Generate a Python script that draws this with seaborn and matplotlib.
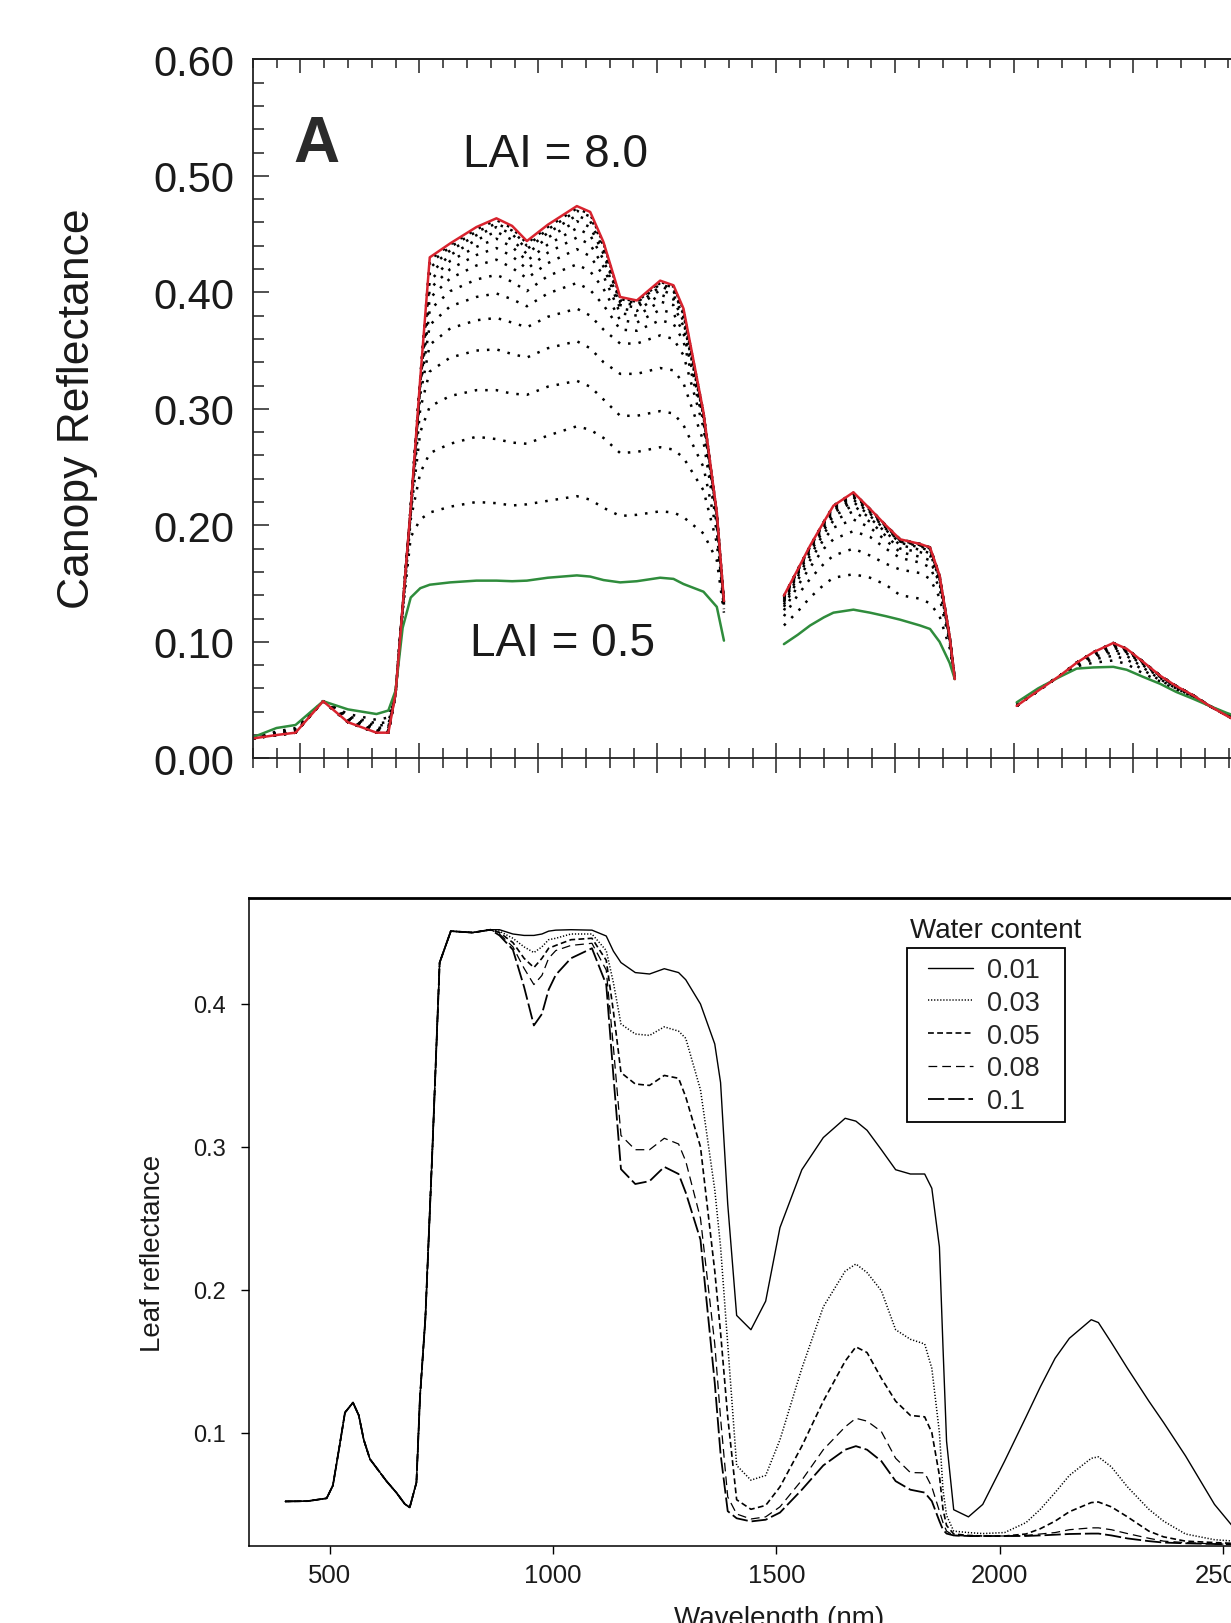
import numpy as np
import matplotlib
matplotlib.use("Agg")
import matplotlib.pyplot as plt
from matplotlib.ticker import MultipleLocator, FormatStrFormatter
from matplotlib.patches import Rectangle
import seaborn as sns

# ---------------- data: top panel (canopy reflectance, LAI 0.5 .. 8.0) ----------------
TOP_WL1 = [400, 450, 490, 548, 600, 660, 685, 700, 715, 732, 752, 772, 815, 870, 912,
           945, 976, 1020, 1081, 1109, 1137, 1172, 1207, 1256, 1284, 1305, 1347, 1375, 1390]
TOP_WL2 = [1516, 1545, 1571, 1600, 1620, 1662, 1697, 1730, 1760, 1802, 1823, 1843, 1864, 1875]
TOP_WL3 = [2005, 2050, 2096, 2131, 2166, 2208, 2236, 2270, 2306, 2340, 2376, 2410, 2446, 2480, 2500]

RED1 = [0.017, 0.020, 0.022, 0.049, 0.031, 0.022, 0.022, 0.055, 0.130, 0.215, 0.326, 0.430, 0.442,
        0.456, 0.4635, 0.457, 0.444, 0.458, 0.474, 0.469, 0.443, 0.396, 0.393, 0.410, 0.406,
        0.386, 0.297, 0.211, 0.135]
RED2 = [0.1396, 0.162, 0.1825, 0.203, 0.2168, 0.2283, 0.214, 0.200, 0.188, 0.184, 0.181, 0.157, 0.105, 0.068]
RED3 = [0.045, 0.058, 0.071, 0.082, 0.091, 0.099, 0.094, 0.083, 0.071, 0.062, 0.054, 0.045, 0.0366, 0.029, 0.025]

GREEN1 = [0.018, 0.026, 0.0286, 0.049, 0.042, 0.038, 0.041, 0.058, 0.112, 0.138, 0.146, 0.149, 0.151,
          0.1525, 0.1525, 0.152, 0.1525, 0.155, 0.157, 0.156, 0.153, 0.151, 0.152, 0.155, 0.154,
          0.1496, 0.143, 0.130, 0.101]
GREEN2 = [0.098, 0.106, 0.114, 0.121, 0.125, 0.1276, 0.125, 0.122, 0.119, 0.114, 0.111, 0.100, 0.082, 0.068]
GREEN3 = [0.048, 0.060, 0.070, 0.077, 0.078, 0.0785, 0.076, 0.070, 0.064, 0.057, 0.051, 0.045, 0.039, 0.034, 0.031]

LAI_DOTTED = [1.0, 1.5, 2.0, 2.5, 3.0, 3.5, 4.0, 4.5, 5.0, 5.5, 6.0, 6.5, 7.0, 7.5]

DOT1 = [
    [0.017, 0.023, 0.026, 0.049, 0.038, 0.033, 0.035, 0.056, 0.125, 0.190, 0.205,
     0.211, 0.216, 0.220, 0.219, 0.217, 0.218, 0.221, 0.225, 0.222, 0.215, 0.208, 0.209, 0.212, 0.211, 0.207, 0.193, 0.170, 0.125],
    [0.017, 0.022, 0.025, 0.049, 0.036, 0.030, 0.031, 0.055, 0.127, 0.205, 0.245,
     0.262, 0.270, 0.276, 0.274, 0.271, 0.270, 0.277, 0.285, 0.282, 0.275, 0.262, 0.263, 0.267, 0.265, 0.258, 0.230, 0.185, 0.127],
    [0.017, 0.022, 0.024, 0.049, 0.035, 0.028, 0.029, 0.055, 0.128, 0.210, 0.280,
     0.302, 0.311, 0.316, 0.316, 0.313, 0.312, 0.319, 0.324, 0.319, 0.308, 0.294, 0.294, 0.298, 0.296, 0.286, 0.250, 0.195, 0.128],
    [0.017, 0.021, 0.023, 0.049, 0.034, 0.026, 0.027, 0.055, 0.129, 0.212, 0.300,
     0.332, 0.344, 0.350, 0.351, 0.347, 0.344, 0.352, 0.358, 0.352, 0.340, 0.330, 0.330, 0.335, 0.333, 0.322, 0.272, 0.200, 0.129],
    [0.017, 0.021, 0.023, 0.049, 0.033, 0.025, 0.026, 0.055, 0.129, 0.213, 0.312,
     0.355, 0.369, 0.376, 0.378, 0.374, 0.370, 0.379, 0.386, 0.380, 0.368, 0.356, 0.356, 0.363, 0.360, 0.346, 0.284, 0.204, 0.130],
    [0.017, 0.021, 0.023, 0.049, 0.033, 0.024, 0.025, 0.055, 0.130, 0.214, 0.318,
     0.372, 0.388, 0.396, 0.399, 0.394, 0.388, 0.399, 0.408, 0.402, 0.389, 0.368, 0.367, 0.376, 0.373, 0.358, 0.289, 0.206, 0.131],
    [0.017, 0.020, 0.022, 0.049, 0.032, 0.024, 0.024, 0.055, 0.130, 0.214, 0.320,
     0.385, 0.401, 0.411, 0.415, 0.409, 0.401, 0.414, 0.424, 0.418, 0.403, 0.376, 0.374, 0.385, 0.382, 0.365, 0.292, 0.207, 0.132],
    [0.017, 0.020, 0.022, 0.049, 0.032, 0.023, 0.023, 0.055, 0.130, 0.215, 0.322,
     0.395, 0.412, 0.423, 0.428, 0.421, 0.412, 0.425, 0.437, 0.431, 0.414, 0.382, 0.380, 0.392, 0.389, 0.371, 0.293, 0.208, 0.133],
    [0.017, 0.020, 0.022, 0.049, 0.032, 0.023, 0.023, 0.055, 0.130, 0.215, 0.323,
     0.403, 0.420, 0.432, 0.438, 0.431, 0.420, 0.434, 0.447, 0.441, 0.422, 0.386, 0.384, 0.398, 0.394, 0.375, 0.294, 0.209, 0.133],
    [0.017, 0.020, 0.022, 0.049, 0.031, 0.022, 0.022, 0.055, 0.130, 0.215, 0.324,
     0.410, 0.427, 0.439, 0.446, 0.439, 0.427, 0.441, 0.455, 0.449, 0.428, 0.389, 0.387, 0.402, 0.398, 0.379, 0.295, 0.209, 0.134],
    [0.017, 0.020, 0.022, 0.049, 0.031, 0.022, 0.022, 0.055, 0.130, 0.215, 0.325,
     0.416, 0.432, 0.445, 0.452, 0.445, 0.433, 0.447, 0.461, 0.456, 0.433, 0.391, 0.389, 0.405, 0.401, 0.381, 0.296, 0.210, 0.134],
    [0.017, 0.020, 0.022, 0.049, 0.031, 0.022, 0.022, 0.055, 0.130, 0.215, 0.325,
     0.421, 0.436, 0.449, 0.456, 0.450, 0.437, 0.451, 0.466, 0.461, 0.437, 0.393, 0.391, 0.407, 0.403, 0.383, 0.296, 0.210, 0.134],
    [0.017, 0.020, 0.022, 0.049, 0.031, 0.022, 0.022, 0.055, 0.130, 0.215, 0.326,
     0.425, 0.439, 0.452, 0.459, 0.453, 0.440, 0.454, 0.470, 0.465, 0.440, 0.394, 0.392, 0.408, 0.404, 0.384, 0.297, 0.210, 0.135],
    [0.017, 0.020, 0.022, 0.049, 0.031, 0.022, 0.022, 0.055, 0.130, 0.215, 0.326,
     0.428, 0.441, 0.454, 0.462, 0.455, 0.442, 0.456, 0.472, 0.467, 0.442, 0.395, 0.392, 0.409, 0.405, 0.385, 0.297, 0.211, 0.135],
]
DOT2 = [
    [0.114, 0.126, 0.138, 0.149, 0.155, 0.158, 0.155, 0.149, 0.140, 0.137, 0.133, 0.122, 0.095, 0.068],
    [0.122, 0.140, 0.154, 0.167, 0.174, 0.180, 0.174, 0.167, 0.162, 0.159, 0.154, 0.138, 0.100, 0.068],
    [0.127, 0.148, 0.164, 0.180, 0.188, 0.195, 0.190, 0.180, 0.172, 0.168, 0.164, 0.146, 0.102, 0.068],
    [0.130, 0.153, 0.170, 0.188, 0.198, 0.205, 0.198, 0.187, 0.177, 0.173, 0.170, 0.150, 0.103, 0.068],
    [0.132, 0.156, 0.174, 0.193, 0.204, 0.212, 0.203, 0.191, 0.180, 0.177, 0.174, 0.152, 0.104, 0.068],
    [0.134, 0.158, 0.177, 0.196, 0.208, 0.217, 0.206, 0.194, 0.183, 0.179, 0.176, 0.154, 0.104, 0.068],
    [0.135, 0.159, 0.179, 0.198, 0.211, 0.220, 0.208, 0.196, 0.185, 0.181, 0.178, 0.155, 0.104, 0.068],
    [0.136, 0.160, 0.180, 0.200, 0.213, 0.222, 0.210, 0.197, 0.186, 0.182, 0.179, 0.155, 0.105, 0.068],
    [0.137, 0.161, 0.181, 0.201, 0.214, 0.224, 0.211, 0.198, 0.186, 0.183, 0.180, 0.156, 0.105, 0.068],
    [0.138, 0.161, 0.181, 0.202, 0.215, 0.225, 0.212, 0.199, 0.187, 0.183, 0.180, 0.156, 0.105, 0.068],
    [0.138, 0.161, 0.182, 0.202, 0.216, 0.226, 0.213, 0.199, 0.187, 0.183, 0.180, 0.156, 0.105, 0.068],
    [0.139, 0.162, 0.182, 0.203, 0.216, 0.227, 0.213, 0.200, 0.188, 0.184, 0.181, 0.157, 0.105, 0.068],
    [0.139, 0.162, 0.182, 0.203, 0.216, 0.227, 0.214, 0.200, 0.188, 0.184, 0.181, 0.157, 0.105, 0.068],
    [0.139, 0.162, 0.182, 0.203, 0.217, 0.228, 0.214, 0.200, 0.188, 0.184, 0.181, 0.157, 0.105, 0.068],
]
DOT3 = [
    [0.046, 0.059, 0.071, 0.079, 0.082, 0.084, 0.081, 0.073, 0.066, 0.059, 0.052, 0.045, 0.038, 0.033, 0.030],
    [0.046, 0.059, 0.071, 0.080, 0.085, 0.088, 0.085, 0.076, 0.067, 0.060, 0.053, 0.045, 0.038, 0.032, 0.029],
    [0.046, 0.058, 0.071, 0.081, 0.087, 0.091, 0.088, 0.078, 0.068, 0.060, 0.053, 0.045, 0.038, 0.031, 0.028],
    [0.045, 0.058, 0.071, 0.081, 0.088, 0.093, 0.090, 0.080, 0.069, 0.061, 0.053, 0.045, 0.037, 0.031, 0.027],
    [0.045, 0.058, 0.071, 0.082, 0.089, 0.095, 0.091, 0.081, 0.070, 0.061, 0.054, 0.045, 0.037, 0.030, 0.026],
    [0.045, 0.058, 0.071, 0.082, 0.090, 0.096, 0.092, 0.082, 0.070, 0.062, 0.054, 0.045, 0.037, 0.030, 0.026],
    [0.045, 0.058, 0.071, 0.082, 0.090, 0.097, 0.092, 0.082, 0.071, 0.062, 0.054, 0.045, 0.037, 0.030, 0.025],
    [0.045, 0.058, 0.071, 0.082, 0.090, 0.097, 0.093, 0.083, 0.071, 0.062, 0.054, 0.045, 0.037, 0.029, 0.025],
    [0.045, 0.058, 0.071, 0.082, 0.091, 0.098, 0.093, 0.083, 0.071, 0.062, 0.054, 0.045, 0.037, 0.029, 0.025],
    [0.045, 0.058, 0.071, 0.082, 0.091, 0.098, 0.093, 0.083, 0.071, 0.062, 0.054, 0.045, 0.037, 0.029, 0.025],
    [0.045, 0.058, 0.071, 0.082, 0.091, 0.098, 0.094, 0.083, 0.071, 0.062, 0.054, 0.045, 0.037, 0.029, 0.025],
    [0.045, 0.058, 0.071, 0.082, 0.091, 0.099, 0.094, 0.083, 0.071, 0.062, 0.054, 0.045, 0.037, 0.029, 0.025],
    [0.045, 0.058, 0.071, 0.082, 0.091, 0.099, 0.094, 0.083, 0.071, 0.062, 0.054, 0.045, 0.037, 0.029, 0.025],
    [0.045, 0.058, 0.071, 0.082, 0.091, 0.099, 0.094, 0.083, 0.071, 0.062, 0.054, 0.045, 0.037, 0.029, 0.025],
]

TOP_YTICKS = [0.00, 0.10, 0.20, 0.30, 0.40, 0.50, 0.60]

# ---------------- data: bottom panel (leaf reflectance vs water content) ----------------
LEAF_WL_COMMON = [400, 450, 493, 507, 522, 534, 552, 565, 576, 590, 627, 649, 668, 679, 694, 702,
                  714, 730, 746, 771, 820, 860]
LEAF_COMMON = [0.0518, 0.052, 0.054, 0.063, 0.091, 0.114, 0.121, 0.112, 0.095, 0.0814, 0.066, 0.058,
               0.050, 0.0476, 0.065, 0.125, 0.180, 0.300, 0.429, 0.451, 0.450, 0.452]
LEAF_WL = [880, 910, 935, 957, 975, 990, 1006, 1040, 1087, 1119, 1135, 1152, 1184, 1216, 1249, 1281,
           1297, 1330, 1362, 1375, 1391, 1411, 1443, 1476, 1508, 1557, 1605, 1654, 1678, 1703, 1735,
           1767, 1800, 1832, 1848, 1865, 1873, 1881, 1897, 1930, 1962, 2011, 2059, 2091, 2124, 2156,
           2205, 2221, 2250, 2286, 2334, 2367, 2416, 2481, 2526]
WATER_CONTENT = ["0.01", "0.03", "0.05", "0.08", "0.1"]
LEAF_001 = [0.452, 0.449, 0.448, 0.448, 0.449, 0.451, 0.4517, 0.452, 0.4517, 0.4476, 0.437, 0.429, 0.422,
            0.421, 0.4247, 0.422, 0.417, 0.400, 0.372, 0.345, 0.26, 0.182, 0.172, 0.192, 0.2435, 0.284,
            0.3065, 0.320, 0.318, 0.3116, 0.298, 0.284, 0.281, 0.281, 0.271, 0.230, 0.160, 0.094, 0.046,
            0.041, 0.0497, 0.080, 0.111, 0.132, 0.152, 0.166, 0.179, 0.177, 0.163, 0.145, 0.122, 0.107,
            0.0837, 0.0497, 0.0327]
LEAF_003 = [0.451, 0.446, 0.440, 0.436, 0.440, 0.445, 0.446, 0.449, 0.449, 0.4374, 0.415, 0.386, 0.379,
            0.378, 0.384, 0.381, 0.376, 0.340, 0.270, 0.230, 0.162, 0.077, 0.0667, 0.070, 0.095, 0.145,
            0.188, 0.213, 0.218, 0.212, 0.1993, 0.172, 0.1653, 0.162, 0.145, 0.100, 0.060, 0.042, 0.031,
            0.030, 0.0293, 0.030, 0.037, 0.0463, 0.058, 0.070, 0.082, 0.083, 0.076, 0.062, 0.0463, 0.038,
            0.029, 0.025, 0.024]
LEAF_005 = [0.450, 0.443, 0.432, 0.4255, 0.432, 0.439, 0.441, 0.445, 0.446, 0.4306, 0.395, 0.352, 0.344,
            0.343, 0.350, 0.348, 0.335, 0.300, 0.213, 0.170, 0.111, 0.053, 0.0463, 0.049, 0.062, 0.0905,
            0.122, 0.150, 0.160, 0.156, 0.138, 0.122, 0.112, 0.111, 0.100, 0.070, 0.0463, 0.035, 0.029,
            0.028, 0.0276, 0.0276, 0.029, 0.0327, 0.038, 0.0446, 0.051, 0.0514, 0.048, 0.041, 0.031, 0.027,
            0.024, 0.023, 0.0224]
LEAF_008 = [0.449, 0.440, 0.425, 0.4136, 0.420, 0.432, 0.4374, 0.441, 0.4425, 0.4238, 0.370, 0.308, 0.298,
            0.298, 0.306, 0.302, 0.290, 0.250, 0.162, 0.110, 0.055, 0.043, 0.0395, 0.041, 0.048, 0.0667,
            0.088, 0.104, 0.110, 0.108, 0.1007, 0.082, 0.072, 0.0718, 0.062, 0.045, 0.037, 0.031, 0.028,
            0.0276, 0.0276, 0.0276, 0.028, 0.029, 0.030, 0.032, 0.0333, 0.0333, 0.032, 0.0293, 0.026, 0.024,
            0.023, 0.022, 0.0218]
LEAF_010 = [0.448, 0.438, 0.412, 0.385, 0.393, 0.410, 0.4204, 0.432, 0.439, 0.4136, 0.350, 0.2844, 0.274,
            0.276, 0.286, 0.281, 0.268, 0.235, 0.1347, 0.085, 0.045, 0.040, 0.0378, 0.039, 0.044, 0.060,
            0.077, 0.088, 0.0905, 0.088, 0.080, 0.066, 0.060, 0.058, 0.052, 0.038, 0.032, 0.0293, 0.028,
            0.0276, 0.0276, 0.0276, 0.0276, 0.028, 0.0285, 0.029, 0.0293, 0.0293, 0.028, 0.0259, 0.024, 0.023,
            0.0225, 0.022, 0.0218]
LEAF_SERIES = [LEAF_001, LEAF_003, LEAF_005, LEAF_008, LEAF_010]
LEAF_XTICKS = [500, 1000, 1500, 2000, 2500]
LEAF_YTICKS = [0.1, 0.2, 0.3, 0.4]

# ---------------- figure ----------------
sns.set_style("ticks")
plt.rcParams['font.family'] = ['Liberation Sans', 'DejaVu Sans']

W, H = 1231, 1624
fig = plt.figure(figsize=(W / 100, H / 100), dpi=100)


def px_axes(left, top, right, bottom):
    return [left / W, 1 - bottom / H, (right - left) / W, (bottom - top) / H]


RED = '#d8232e'
GREEN = '#2f8c3c'

# ---- top panel ----
ax1 = fig.add_axes(px_axes(252.7, 60.3, 1252.3, 759.3))
segs_wl = [TOP_WL1, TOP_WL2, TOP_WL3]
for k in range(len(LAI_DOTTED)):
    for wl, vals in zip(segs_wl, [DOT1[k], DOT2[k], DOT3[k]]):
        sns.lineplot(x=wl, y=vals, ax=ax1, color='black', linewidth=1.8,
                     linestyle=(0, (1.0, 3.2)), sort=False, estimator=None)
for wl, vals in zip(segs_wl, [GREEN1, GREEN2, GREEN3]):
    sns.lineplot(x=wl, y=vals, ax=ax1, color=GREEN, linewidth=1.8, sort=False, estimator=None)
for wl, vals in zip(segs_wl, [RED1, RED2, RED3]):
    sns.lineplot(x=wl, y=vals, ax=ax1, color=RED, linewidth=1.8, sort=False, estimator=None)

ax1.set_xlim(400, 2500)
ax1.set_ylim(0, 0.6)
ax1.set_xlabel('')
ax1.set_ylabel('')
ax1.xaxis.set_major_locator(MultipleLocator(250))
ax1.xaxis.set_minor_locator(MultipleLocator(50))
ax1.set_yticks(TOP_YTICKS)
ax1.yaxis.set_minor_locator(MultipleLocator(0.02))
ax1.yaxis.set_major_formatter(FormatStrFormatter('%.2f'))
ax1.tick_params(axis='x', which='major', direction='inout', length=22, width=1.1,
                labelbottom=False, top=False, color='#222222')
ax1.tick_params(axis='x', which='minor', direction='inout', length=15, width=1.1,
                top=False, color='#222222')
ax1.tick_params(axis='y', which='major', direction='in', length=11.5, width=1.1,
                labelsize=30, pad=13.5, right=False, color='#222222', labelcolor='#1a1a1a')
ax1.tick_params(axis='y', which='minor', direction='in', length=7.9, width=1.1,
                right=False, color='#222222')
for sp in ax1.spines.values():
    sp.set_linewidth(1.3)
    sp.set_color('#222222')
sec = ax1.secondary_xaxis('top')
sec.xaxis.set_major_locator(MultipleLocator(250))
sec.xaxis.set_minor_locator(MultipleLocator(50))
sec.tick_params(axis='x', which='major', direction='in', length=10, width=1.1,
                labeltop=False, color='#222222')
sec.tick_params(axis='x', which='minor', direction='in', length=6.5, width=1.1, color='#222222')
sec.spines['top'].set_linewidth(1.3)

ax1.text(533, 0.527, 'A', fontsize=46, fontweight='bold', color='#2b2b2b',
         ha='center', va='center')
ax1.text(1037, 0.519, 'LAI = 8.0', fontsize=33, color='#1a1a1a', ha='center', va='center')
ax1.text(1051, 0.099, 'LAI = 0.5', fontsize=33, color='#1a1a1a', ha='center', va='center')
fig.text(78 / W, 1 - 409 / H, 'Canopy Reflectance', rotation=90, fontsize=32,
         ha='center', va='center', color='#1a1a1a')

# ---- bottom panel ----
ax2 = fig.add_axes(px_axes(248.5, 899, 1290, 1547))
LEAF_STYLES = [dict(linestyle='-', linewidth=1.0),
               dict(linestyle=(0, (0.8, 1.2)), linewidth=1.1),
               dict(linestyle=(0, (3.5, 2.0)), linewidth=1.2),
               dict(linestyle=(0, (7, 4)), linewidth=0.9),
               dict(linestyle=(0, (9, 2.2)), linewidth=1.3)]
handles = []
for lab, vals, st in zip(WATER_CONTENT, LEAF_SERIES, LEAF_STYLES):
    x = LEAF_WL_COMMON + LEAF_WL
    y = LEAF_COMMON + vals
    sns.lineplot(x=x, y=y, ax=ax2, color='black', sort=False, estimator=None, **st)
    handles.append(ax2.get_lines()[-1])

ax2.set_xlim(318, 2650)
ax2.set_ylim(0.0206, 0.4742)
ax2.set_xlabel('')
ax2.set_ylabel('')
ax2.set_xticks(LEAF_XTICKS)
ax2.set_xticklabels([str(v) for v in LEAF_XTICKS])
ax2.set_yticks(LEAF_YTICKS)
ax2.yaxis.set_major_formatter(FormatStrFormatter('%.1f'))
ax2.tick_params(axis='both', which='major', direction='out', length=6, width=1.0,
                color='black', labelcolor='#1a1a1a')
ax2.tick_params(axis='y', pad=10, labelsize=17)
ax2.tick_params(axis='x', pad=6, labelsize=18.5)
for name, sp in ax2.spines.items():
    sp.set_linewidth(1.1)
    sp.set_color('black')
ax2.spines['top'].set_linewidth(2.0)

# legend: entries without frame, box drawn around them, title above the box
leg = ax2.legend(handles, WATER_CONTENT, loc='upper left',
                 bbox_to_anchor=(928 / W, 1 - 958 / H), bbox_transform=fig.transFigure,
                 borderaxespad=0, borderpad=0, frameon=False,
                 fontsize=19.5, handlelength=1.66, handletextpad=0.52, labelspacing=0.25)
fig.patches.append(Rectangle((906.7 / W, 1 - 1122.7 / H), (1065 - 906.7) / W, (1122.7 - 949) / H,
                             transform=fig.transFigure, fill=False, edgecolor='black',
                             linewidth=1.3, zorder=5))
fig.text(995.5 / W, 1 - 931 / H, 'Water content', fontsize=20, ha='center', va='center',
         color='#1a1a1a')

fig.text(153 / W, 1 - 1253 / H, 'Leaf reflectance', rotation=90, fontsize=20,
         ha='center', va='center', color='#1a1a1a')
fig.text(779 / W, 1 - 1626 / H, 'Wavelength (nm)', fontsize=20, ha='center',
         va='baseline', color='#1a1a1a')

fig.savefig('out.png', dpi=100)
